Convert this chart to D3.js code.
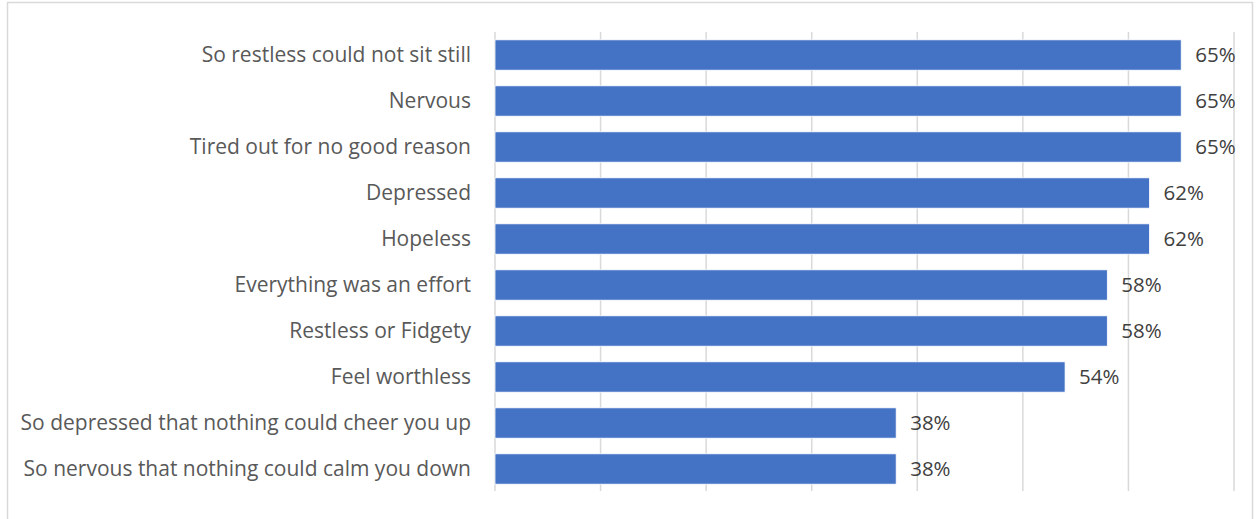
<!DOCTYPE html>
<html><head><meta charset="utf-8">
<script src="https://cdn.jsdelivr.net/npm/d3@7"></script>
<style>body{margin:0;background:#fff;}svg{display:block;}</style>
</head><body>
<svg id="chart" width="1260" height="519"></svg>
<script>
const categories = ["So restless could not sit still","Nervous","Tired out for no good reason","Depressed","Hopeless","Everything was an effort","Restless or Fidgety","Feel worthless","So depressed that nothing could cheer you up","So nervous that nothing could calm you down"];
const values = [65,65,65,62,62,58,58,54,38,38];
const xTicks = [0,10,20,30,40,50,60,70];

const svg = d3.select("#chart");
const font = "'Open Sans', sans-serif";
svg.append("rect").attr("x",7.5).attr("y",2.5).attr("width",1245).attr("height",530)
  .attr("fill","#fff").attr("stroke","#d9d9d9").attr("stroke-width",1.5);

const x = d3.scaleLinear().domain([0,70]).range([495,1234]);
const y = d3.scaleBand().domain(categories).range([32,492]).paddingInner(0.34).paddingOuter(0.17);

svg.append("g").selectAll("line").data(xTicks).join("line")
  .attr("x1",d=>x(d)).attr("x2",d=>x(d)).attr("y1",32).attr("y2",491)
  .attr("stroke","#d9d9d9").attr("stroke-width",1.5);

svg.append("g").selectAll("rect").data(values).join("rect")
  .attr("x",x(0)).attr("y",(d,i)=>y(categories[i]))
  .attr("width",d=>x(d)-x(0)).attr("height",y.bandwidth())
  .attr("fill","#4472C4").attr("stroke","#ffffff").attr("stroke-width",0.8);

svg.append("g").selectAll("text").data(values).join("text")
  .attr("x",d=>x(d)+14).attr("y",(d,i)=>y(categories[i])+y.bandwidth()/2)
  .attr("dy","0.35em").attr("font-family",font).attr("font-size",20.5).attr("fill","#404040")
  .text(d=>d+"%");

svg.append("g").selectAll("text").data(categories).join("text")
  .attr("x",471).attr("y",d=>y(d)+y.bandwidth()/2).attr("dy","0.35em")
  .attr("text-anchor","end").attr("font-family",font).attr("font-size",21).attr("fill","#595959")
  .text(d=>d);
</script>
</body></html>
